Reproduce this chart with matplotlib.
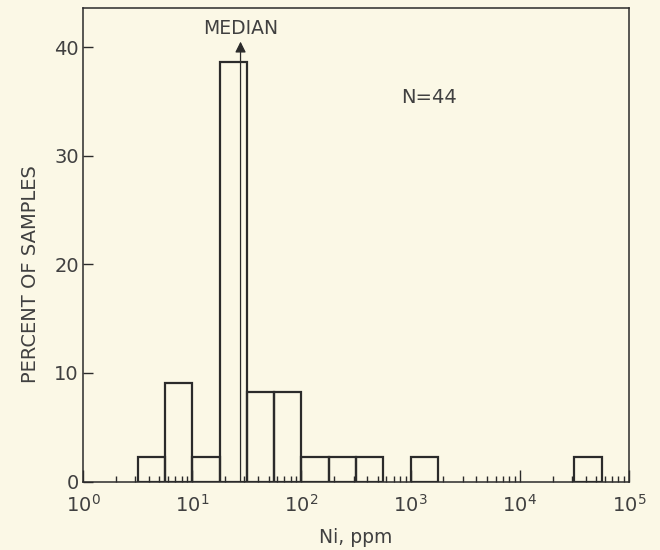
import matplotlib
matplotlib.use("Agg")
from matplotlib import pyplot as plt
from matplotlib.ticker import LogLocator, NullFormatter

# histogram bins (Ni, ppm) and percent of samples
BIN_LEFT = [3.16, 5.62, 10.0, 17.8, 31.6, 56.2, 100.0, 178.0, 316.0, 1000.0, 31600.0]
BIN_RIGHT = [5.62, 10.0, 17.8, 31.6, 56.2, 100.0, 178.0, 316.0, 562.0, 1780.0, 56200.0]
PERCENT = [2.27, 9.09, 2.27, 38.6, 8.2, 8.2, 2.27, 2.27, 2.27, 2.27, 2.27]
MEDIAN_PPM = 27.7
N_SAMPLES = 44
Y_TICKS = [0, 10, 20, 30, 40]

PAPER = "#fbf8e6"
INK = "#2b2b2b"
TEXT = "#404040"

plt.rcParams["font.family"] = ["DejaVu Sans"]

fig = plt.figure(figsize=(6.6, 5.5), dpi=100, facecolor=PAPER)
ax = fig.add_axes([0.1258, 0.1245, 0.953 - 0.1258, 0.9855 - 0.1245])
ax.set_facecolor(PAPER)

widths = [r - l for l, r in zip(BIN_LEFT, BIN_RIGHT)]
ax.bar(BIN_LEFT, PERCENT, width=widths, align="edge", fill=False,
       edgecolor=INK, linewidth=1.6)

ax.set_xscale("log")
ax.set_xlim(1, 1e5)
ax.set_ylim(0, 43.6)

# median arrow
ax.annotate("", xy=(MEDIAN_PPM, 40.5), xytext=(MEDIAN_PPM, 0),
            arrowprops=dict(arrowstyle="-|>", color=INK, lw=0.9,
                            mutation_scale=16, shrinkA=0, shrinkB=0))
ax.text(MEDIAN_PPM, 41.7, "MEDIAN", ha="center", va="center",
        fontsize=13.5, color=TEXT)
ax.text(1465, 35.4, f"N={N_SAMPLES}", ha="center", va="center",
        fontsize=14, color=TEXT)

ax.xaxis.set_major_locator(LogLocator(base=10, numticks=10))
ax.xaxis.set_minor_locator(LogLocator(base=10, subs=range(2, 10), numticks=10))
ax.xaxis.set_minor_formatter(NullFormatter())
ax.set_yticks(Y_TICKS)

ax.tick_params(axis="x", which="major", direction="in", length=8.5, width=1,
               color=INK, labelsize=14, labelcolor=TEXT, pad=9)
ax.tick_params(axis="x", which="minor", direction="in", length=4.5, width=1,
               color=INK)
ax.tick_params(axis="y", which="major", direction="in", length=7.5, width=1,
               color=INK, labelsize=14, labelcolor=TEXT, pad=3)

for s in ax.spines.values():
    s.set_color(INK)
    s.set_linewidth(1.1)

ax.set_xlabel("Ni, ppm", fontsize=13.5, color=TEXT, labelpad=9)
ax.set_ylabel("PERCENT OF SAMPLES", fontsize=14, color=TEXT)
ax.yaxis.set_label_coords(-0.079, 0.438)

fig.savefig("out.png", dpi=100, facecolor=PAPER)
